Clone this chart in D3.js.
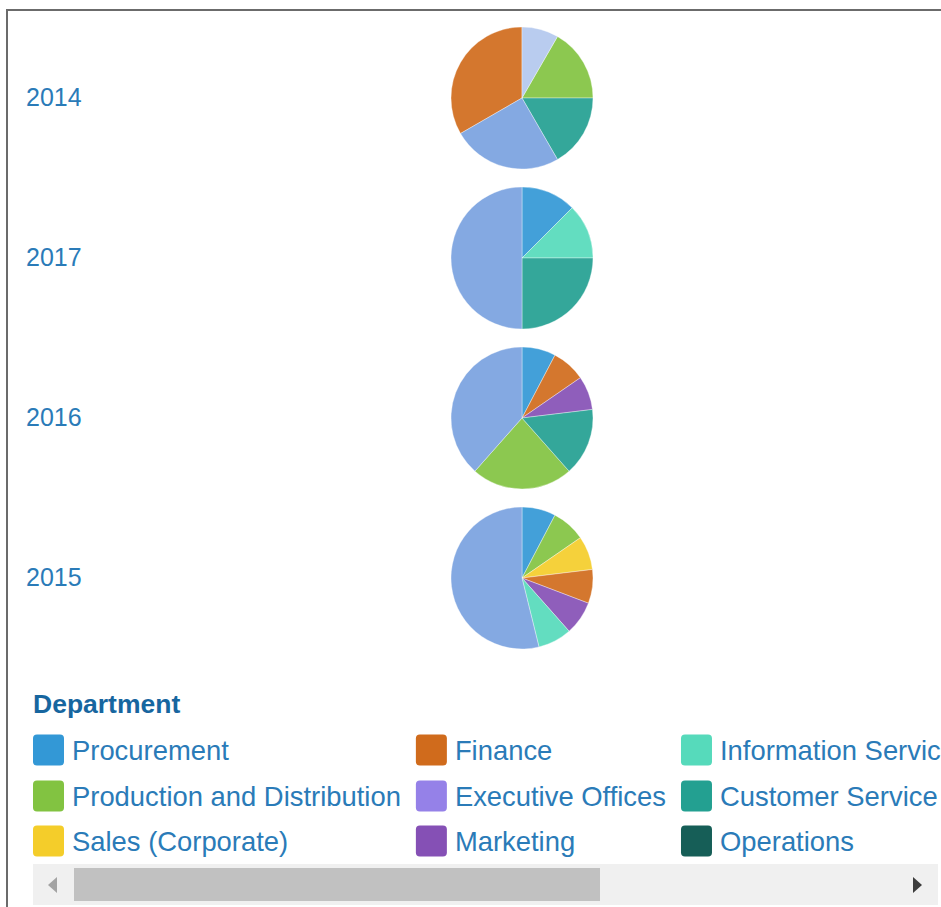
<!DOCTYPE html>
<html>
<head>
<meta charset="utf-8">
<script src="https://cdn.jsdelivr.net/npm/d3@7"></script>
<style>
  html, body { margin: 0; padding: 0; background: #ffffff; }
  svg { display: block; }
</style>
</head>
<body>
<svg id="chart" width="941" height="907"></svg>
<script>
// Departments in legend order (column by column, three rows per column)
const departments = [
  "Procurement", "Production and Distribution", "Sales (Corporate)",
  "Finance", "Executive Offices", "Marketing",
  "Information Services", "Customer Service", "Operations",
  "Human Resources", "Research and Development"
];
const deptColors = [
  "#3398d6", "#82c341", "#f4cd2a",
  "#d06b1c", "#9581e8", "#8550b5",
  "#56dabb", "#23a091", "#165e57",
  "#7aa2e0", "#b3c8ee"
];

// Years in display order, top to bottom
const years = ["2014", "2017", "2016", "2015"];

// Counts per department for each year (same order as departments)
const counts2014 = [0, 2, 0, 4, 0, 0, 0, 2, 0, 3, 1];
const counts2017 = [1, 0, 0, 0, 0, 0, 1, 2, 0, 4, 0];
const counts2016 = [1, 3, 0, 1, 0, 1, 0, 2, 0, 5, 0];
const counts2015 = [1, 1, 1, 1, 0, 1, 1, 0, 0, 7, 0];
const countsByYear = { "2014": counts2014, "2017": counts2017, "2016": counts2016, "2015": counts2015 };

const svg = d3.select("#chart");
const W = 941, H = 907;
const FONT = "'Liberation Sans', Arial, Helvetica, sans-serif";
const labelColor = "#2a7bb8";

// Panel frame (top and left edges)
svg.append("line").attr("x1", 6).attr("x2", W).attr("y1", 10).attr("y2", 10)
  .attr("stroke", "#6b6b6b").attr("stroke-width", 2);
svg.append("line").attr("x1", 7).attr("x2", 7).attr("y1", 10).attr("y2", H)
  .attr("stroke", "#6b6b6b").attr("stroke-width", 2);

// Row scale for the pies
const y = d3.scaleBand().domain(years).range([18, 658]).paddingInner(0).paddingOuter(0);
const color = d3.scaleOrdinal().domain(departments).range(deptColors);
const radius = 71;
const cx = 522;

const pie = d3.pie()
  .value(d => d.value)
  .sort((a, b) => d3.ascending(a.value, b.value) || d3.ascending(a.index, b.index));
const arc = d3.arc().innerRadius(0).outerRadius(radius);

const rows = svg.append("g").selectAll("g.row")
  .data(years).join("g")
  .attr("class", "row")
  .attr("transform", d => `translate(0,${y(d) + y.bandwidth() / 2})`);

rows.append("text")
  .attr("x", 26).attr("y", 8)
  .attr("font-family", FONT).attr("font-size", 25)
  .attr("fill", labelColor)
  .text(d => d);

rows.append("g")
  .attr("transform", `translate(${cx},0)`)
  .selectAll("path")
  .data(yr => pie(departments
    .map((name, i) => ({ name, index: i, value: countsByYear[yr][i] }))
    .filter(d => d.value > 0)))
  .join("path")
  .attr("d", arc)
  .attr("fill", d => color(d.data.name))
  .attr("fill-opacity", 0.92)
  .attr("stroke", "#ffffff")
  .attr("stroke-opacity", 0.6)
  .attr("stroke-width", 0.6);

// Legend, clipped to the visible panel width
const clip = svg.append("defs").append("clipPath").attr("id", "legendClip");
clip.append("rect").attr("x", 8).attr("y", 680).attr("width", W - 8).attr("height", 185);

const legend = svg.append("g").attr("clip-path", "url(#legendClip)");
legend.append("text")
  .attr("x", 33).attr("y", 713)
  .attr("font-family", FONT).attr("font-size", 26.5).attr("font-weight", "bold")
  .attr("fill", "#17669f")
  .text("Department");

const rowY = [750, 796, 841];
const swatch = 31, textGap = 8, colGap = 15;
const legendItems = legend.append("g");
let colX = 33;
for (let c = 0; c * 3 < departments.length; c++) {
  const names = departments.slice(c * 3, c * 3 + 3);
  let maxW = 0;
  names.forEach((name, r) => {
    const g = legendItems.append("g");
    g.append("rect")
      .attr("x", colX).attr("y", rowY[r] - swatch / 2)
      .attr("width", swatch).attr("height", swatch)
      .attr("rx", 4).attr("ry", 4)
      .attr("fill", color(name));
    const t = g.append("text")
      .attr("x", colX + swatch + textGap).attr("y", rowY[r] + 9.5)
      .attr("font-family", FONT).attr("font-size", 27.4)
      .attr("fill", labelColor)
      .text(name);
    maxW = Math.max(maxW, t.node().getComputedTextLength());
  });
  colX += swatch + textGap + maxW + colGap;
}

// Horizontal scrollbar under the legend
const sb = svg.append("g");
sb.append("rect").attr("x", 33).attr("y", 864).attr("width", 905).attr("height", 41).attr("fill", "#f0f0f0");
sb.append("rect").attr("x", 74).attr("y", 868).attr("width", 526).attr("height", 33).attr("fill", "#c1c1c1");
sb.append("path").attr("d", "M57,877 L57,893 L48,885 Z").attr("fill", "#a3a3a3");
sb.append("path").attr("d", "M913,877 L913,893 L922,885 Z").attr("fill", "#3c3c3c");
</script>
</body>
</html>
